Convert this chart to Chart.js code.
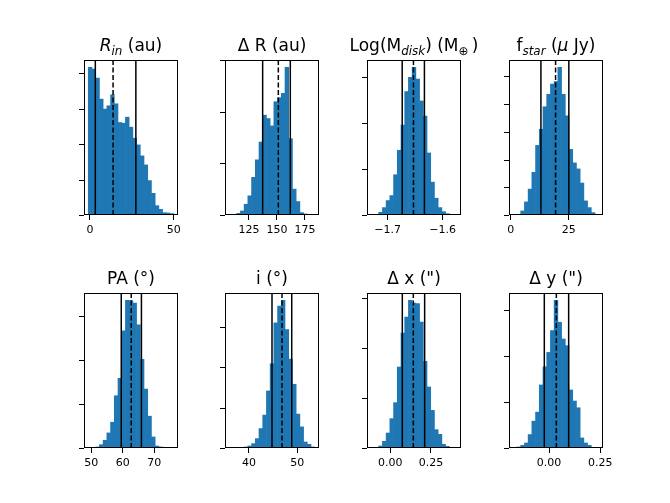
<!DOCTYPE html>
<html>
<head>
<meta charset="utf-8">
<script src="https://cdn.jsdelivr.net/npm/chart.js@4.4.1/dist/chart.umd.min.js"></script>
<style>
  html, body { margin: 0; padding: 0; background: #fff; }
  #fig { position: relative; width: 670px; height: 503px; overflow: hidden; background: #fff; }
  #fig canvas { position: absolute; }
</style>
</head>
<body>
<div id="fig"></div>
<script>
// histogram counts, 23 bins per parameter
const countsRin   = [4170, 4123, 3868, 3274, 2991, 3085, 3396, 3142, 2613, 2594, 2764, 2481, 2170, 1981, 1670, 1415, 972, 613, 264, 160, 66, 57, 38];
const countsDR    = [3, 7, 33, 78, 209, 372, 731, 1070, 1416, 1937, 1872, 1729, 2198, 2277, 2361, 2864, 1481, 502, 261, 46, 20, 7, 3];
const countsMdisk = [2, 7, 58, 161, 314, 423, 876, 1409, 1956, 2686, 2993, 3212, 2956, 2482, 2153, 1350, 715, 365, 161, 73, 29, 7, 2];
const countsFstar = [5, 24, 145, 473, 933, 1539, 2509, 3091, 3903, 4352, 4715, 4812, 5321, 4352, 3576, 2364, 1879, 1661, 1152, 509, 267, 85, 24];
const countsPA    = [3, 8, 23, 76, 176, 344, 588, 1191, 1588, 2672, 3366, 3359, 3305, 2809, 2023, 1344, 725, 252, 46, 23, 8, 3, 2];
const countsInc   = [2, 4, 8, 17, 25, 50, 108, 233, 483, 817, 1417, 2092, 3108, 3525, 3667, 2942, 2208, 1583, 842, 525, 150, 92, 25];
const countsDx    = [7, 13, 40, 133, 300, 587, 907, 1620, 2300, 2620, 2953, 2900, 2887, 2520, 1733, 1220, 753, 367, 273, 73, 33, 13, 3];
const countsDy    = [7, 22, 58, 109, 292, 584, 781, 1372, 1766, 2080, 2555, 3212, 2737, 2372, 2226, 1263, 1022, 876, 219, 109, 58, 15, 3];

// sample min / max (histogram range)
const rangeRin   = [-1.0, 50.0];
const rangeDR    = [107.4, 183.7];
const rangeMdisk = [-1.7295, -1.5745];
const rangeFstar = [1.11, 37.85];
const rangePA    = [49.03, 76.15];
const rangeInc   = [35.92, 53.6];
const rangeDx    = [-0.1168, 0.408];
const rangeDy    = [-0.174, 0.242];

// 16th, 50th, 84th percentiles
const linesRin   = [3.2, 13.8, 27.4];
const linesDR    = [137.2, 151.2, 161.9];
const linesMdisk = [-1.6734, -1.653, -1.6331];
const linesFstar = [13.0, 19.3, 25.0];
const linesPA    = [59.5, 62.67, 65.9];
const linesInc   = [44.76, 46.83, 48.84];
const linesDx    = [0.0738, 0.1414, 0.211];
const linesDy    = [-0.0229, 0.0356, 0.0956];

// x tick values and labels
const ticksRin   = [0, 50];          const labelsRin   = ["0", "50"];
const ticksDR    = [125, 150, 175];  const labelsDR    = ["125", "150", "175"];
const ticksMdisk = [-1.7, -1.6];     const labelsMdisk = ["\u22121.7", "\u22121.6"];
const ticksFstar = [0, 25];          const labelsFstar = ["0", "25"];
const ticksPA    = [50, 60, 70];     const labelsPA    = ["50", "60", "70"];
const ticksInc   = [40, 50];         const labelsInc   = ["40", "50"];
const ticksDx    = [0, 0.25];        const labelsDx    = ["0.00", "0.25"];
const ticksDy    = [0, 0.25];        const labelsDy    = ["0.00", "0.25"];

// y tick marks (labels hidden), in counts
const yTickStep = 1000;

// titles as text runs (it = italic, sub = subscript)
const titleRin   = [{ t: "R", it: 1 }, { t: "in", it: 1, sub: 1 }, { t: " (au)" }];
const titleDR    = [{ t: "\u0394 R (au)" }];
const titleMdisk = [{ t: "Log(M" }, { t: "disk", it: 1, sub: 1 }, { t: ") (M" }, { t: "\u2295", sub: 1 }, { t: "\u2009)" }];
const titleFstar = [{ t: "f" }, { t: "star", it: 1, sub: 1 }, { t: " (" }, { t: "\u03bc", it: 1 }, { t: " Jy)" }];
const titlePA    = [{ t: "PA (\u00b0)" }];
const titleInc   = [{ t: "i (\u00b0)" }];
const titleDx    = [{ t: "\u0394 x (\")" }];
const titleDy    = [{ t: "\u0394 y (\")" }];

const panels = [
  { title: titleRin,   counts: countsRin,   range: rangeRin,   lines: linesRin,   ticks: ticksRin,   labels: labelsRin },
  { title: titleDR,    counts: countsDR,    range: rangeDR,    lines: linesDR,    ticks: ticksDR,    labels: labelsDR },
  { title: titleMdisk, counts: countsMdisk, range: rangeMdisk, lines: linesMdisk, ticks: ticksMdisk, labels: labelsMdisk },
  { title: titleFstar, counts: countsFstar, range: rangeFstar, lines: linesFstar, ticks: ticksFstar, labels: labelsFstar },
  { title: titlePA,    counts: countsPA,    range: rangePA,    lines: linesPA,    ticks: ticksPA,    labels: labelsPA },
  { title: titleInc,   counts: countsInc,   range: rangeInc,   lines: linesInc,   ticks: ticksInc,   labels: labelsInc },
  { title: titleDx,    counts: countsDx,    range: rangeDx,    lines: linesDx,    ticks: ticksDx,    labels: labelsDx },
  { title: titleDy,    counts: countsDy,    range: rangeDy,    lines: linesDy,    ticks: ticksDy,    labels: labelsDy },
];

// subplot grid geometry (px)
const colLeft = [84, 225, 367, 509];
const rowTop = [60, 293];
const AX_W = 94, AX_H = 155;
const PAD_L = 40, PAD_R = 20, PAD_T = 32, PAD_B = 30;

Chart.defaults.font.family = "'DejaVu Sans'";
Chart.defaults.color = "#000";

const frame = {
  id: "frame",
  afterDatasetsDraw(c) {
    const a = c.chartArea, ctx = c.ctx;
    ctx.save();
    ctx.strokeStyle = "#000";
    ctx.lineWidth = 1;
    ctx.strokeRect(a.left + 0.5, a.top + 0.5, a.width - 1, a.height - 1);
    // y tick marks, outside on the left
    const ys = c.scales.y;
    ctx.beginPath();
    for (let v = 0; v <= ys.max; v += yTickStep) {
      const py = Math.round(ys.getPixelForValue(v)) + 0.5;
      ctx.moveTo(a.left - 5, py);
      ctx.lineTo(a.left, py);
    }
    ctx.stroke();
    ctx.restore();
  }
};

function titlePlugin(segs) {
  return {
    id: "paneltitle",
    afterDraw(c) {
      const ctx = c.ctx, a = c.chartArea;
      const size = 17;
      const fontFor = s => (s.it ? "italic " : "") + (s.sub ? size * 0.7 : size) + "px 'DejaVu Sans'";
      let total = 0;
      const widths = segs.map(s => { ctx.font = fontFor(s); const w = ctx.measureText(s.t).width; total += w; return w; });
      let x = (a.left + a.right) / 2 - total / 2;
      const base = a.top - 9;
      ctx.save();
      ctx.fillStyle = "#000";
      ctx.textAlign = "left";
      ctx.textBaseline = "alphabetic";
      segs.forEach((s, i) => {
        ctx.font = fontFor(s);
        ctx.fillText(s.t, x, base + (s.sub ? 3.5 : 0));
        x += widths[i];
      });
      ctx.restore();
    }
  };
}

const fig = document.getElementById("fig");

panels.forEach((p, k) => {
  const col = k % 4, row = Math.floor(k / 4);
  const cv = document.createElement("canvas");
  cv.width = AX_W + PAD_L + PAD_R;
  cv.height = AX_H + PAD_T + PAD_B;
  cv.style.left = (colLeft[col] - PAD_L) + "px";
  cv.style.top = (rowTop[row] - PAD_T) + "px";
  fig.appendChild(cv);

  const [lo, hi] = p.range;
  const span = hi - lo;
  const bw = span / p.counts.length;
  const yMax = Math.max(...p.counts) * 1.05;
  const bars = p.counts.map((c, i) => ({ x: lo + (i + 0.5) * bw, y: c }));

  const lineSets = p.lines.map((v, j) => ({
    type: "line",
    data: [{ x: v, y: 0 }, { x: v, y: yMax }],
    borderColor: "#000",
    borderWidth: 1.5,
    borderDash: j === 1 ? [5, 2.5] : [],
    pointRadius: 0,
    order: 0
  }));

  new Chart(cv, {
    type: "bar",
    data: {
      datasets: [{
        data: bars,
        backgroundColor: "#1f77b4",
        borderColor: "#3a88bf",
        borderWidth: 0,
        barPercentage: 1,
        categoryPercentage: 1,
        order: 1
      }, ...lineSets]
    },
    options: {
      responsive: false,
      animation: false,
      layout: { padding: { left: 0, right: PAD_R, top: PAD_T, bottom: 0 } },
      plugins: { legend: { display: false }, tooltip: { enabled: false } },
      scales: {
        x: {
          type: "linear",
          min: lo - 0.05 * span,
          max: hi + 0.05 * span,
          offset: false,
          afterBuildTicks: s => { s.ticks = p.ticks.map(v => ({ value: v })); },
          afterFit: s => { s.height = PAD_B; },
          grid: { offset: false, drawOnChartArea: false, drawTicks: true, tickLength: 5, color: "#000", lineWidth: 1 },
          border: { display: false },
          ticks: {
            padding: 4,
            color: "#000",
            font: { size: 11 },
            maxRotation: 0,
            autoSkip: false,
            callback: v => p.labels[p.ticks.indexOf(v)]
          }
        },
        y: {
          type: "linear",
          min: 0,
          max: yMax,
          afterFit: s => { s.width = PAD_L; },
          grid: { display: false },
          border: { display: false },
          ticks: { display: false }
        }
      }
    },
    plugins: [frame, titlePlugin(p.title)]
  });
});
</script>
</body>
</html>
